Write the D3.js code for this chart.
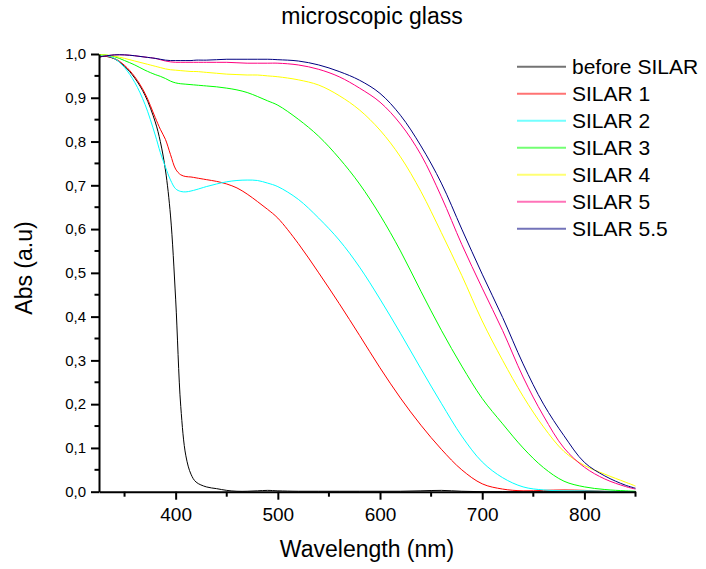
<!DOCTYPE html>
<html>
<head>
<meta charset="utf-8">
<script src="https://cdn.jsdelivr.net/npm/d3@7"></script>
<style>
	body{margin:0;background:#fff;}
	text{font-family:"Liberation Sans", Arial, sans-serif;fill:#000;}
	.axis path, .axis line{stroke:#000;stroke-width:2px;}
</style>
</head>
<body>
<script>
(function(){
	//wavelength (nm) sample points shared by all spectra
	var wavelength =[325,330,340,350,360,370,380,385,390,395,400,405,410,415,420,430,440,450,460,470,480,490,500,520,540,560,580,600,620,640,660,680,700,720,740,760,780,800,820,840,850];

	var beforeSilar =[0.993,0.995,0.989,0.972,0.945,0.906,0.845,0.80,0.735,0.63,0.44,0.195,0.082,0.040,0.022,0.011,0.007,0.003,0.001,0.001,0.002,0.003,0.002,0.001,0.001,0.001,0.001,0.001,0.001,0.002,0.003,0.001,0,0,0,0,0,0,0,0,0];
	var silar1 =[0.993,0.995,0.990,0.974,0.948,0.910,0.855,0.828,0.805,0.770,0.737,0.724,0.720,0.719,0.717,0.713,0.709,0.703,0.694,0.680,0.663,0.645,0.625,0.567,0.500,0.430,0.357,0.283,0.214,0.152,0.097,0.050,0.018,0.006,0.002,0.003,0.004,0.003,0.001,0,0];
	var silar2 =[0.995,0.997,0.990,0.969,0.935,0.885,0.815,0.775,0.742,0.712,0.692,0.686,0.685,0.687,0.690,0.697,0.703,0.708,0.711,0.712,0.711,0.705,0.697,0.668,0.625,0.575,0.513,0.440,0.362,0.281,0.202,0.127,0.068,0.032,0.011,0.004,0.002,0.002,0.001,0.001,0];
	var silar3 =[0.998,0.998,0.994,0.985,0.975,0.963,0.953,0.949,0.944,0.938,0.934,0.932,0.931,0.930,0.929,0.927,0.925,0.922,0.918,0.912,0.903,0.893,0.883,0.851,0.812,0.762,0.703,0.632,0.550,0.458,0.369,0.287,0.213,0.155,0.100,0.055,0.024,0.011,0.005,0.002,0.001];
	var silar4 =[0.998,0.998,0.995,0.990,0.984,0.978,0.972,0.969,0.966,0.964,0.963,0.962,0.961,0.960,0.960,0.958,0.956,0.954,0.953,0.952,0.952,0.950,0.948,0.941,0.929,0.905,0.872,0.826,0.765,0.686,0.592,0.494,0.390,0.300,0.218,0.148,0.092,0.060,0.040,0.022,0.013];
	var silar5 =[0.993,0.995,0.998,0.998,0.996,0.993,0.990,0.987,0.984,0.982,0.981,0.981,0.981,0.981,0.981,0.981,0.981,0.981,0.980,0.979,0.979,0.979,0.979,0.975,0.965,0.948,0.922,0.890,0.840,0.770,0.674,0.565,0.465,0.368,0.262,0.173,0.100,0.056,0.029,0.012,0.006];
	var silar55 =[0.993,0.995,0.998,0.998,0.996,0.993,0.990,0.988,0.986,0.985,0.985,0.985,0.985,0.985,0.986,0.986,0.987,0.988,0.988,0.988,0.988,0.988,0.987,0.984,0.975,0.960,0.940,0.910,0.860,0.790,0.705,0.600,0.497,0.398,0.292,0.200,0.128,0.067,0.036,0.015,0.008];

	var seriesNames =["before SILAR", "SILAR 1", "SILAR 2", "SILAR 3", "SILAR 4", "SILAR 5", "SILAR 5.5"];
	var seriesColors =["#000000", "#ff0000", "#00ffff", "#00ff00", "#ffff00", "#ff0080", "#000080"];
	var seriesValues =[beforeSilar, silar1, silar2, silar3, silar4, silar5, silar55];

	var xMajor =[400, 500, 600, 700, 800],
		xMinor =[350, 450, 550, 650, 750, 850],
		yMajor =[0, 0.1, 0.2, 0.3, 0.4, 0.5, 0.6, 0.7, 0.8, 0.9, 1.0],
		yMinor =[0.05, 0.15, 0.25, 0.35, 0.45, 0.55, 0.65, 0.75, 0.85, 0.95];

	//frame dimensions
	var width =706,
		height =569,
		left =99,
		right =635.5,
		top =54,
		bottom =491.7;

	var x =d3.scaleLinear()
		.domain([325, 850])
		.range([left, right]);

	var y =d3.scaleLinear()
		.domain([0, 1])
		.range([bottom, top]);

	var svg =d3.select("body")
		.append("svg")
		.attr("width", width)
		.attr("height", height);

	//spectra
	var line =d3.line()
		.x(function(d){ return x(d[0]); })
		.y(function(d){ return y(Math.max(0, d[1])); })
		.curve(d3.curveCatmullRom.alpha(0.5));

	seriesValues.forEach(function(vals, i){
		var pts =wavelength.map(function(w, j){ return [w, vals[j]]; });
		svg.append("path")
			.datum(pts)
			.attr("class", "spectrum")
			.attr("fill", "none")
			.attr("stroke", seriesColors[i])
			.attr("stroke-width", 1)
			.attr("d", line);
	});

	//axes
	var xAxis =svg.append("g")
		.attr("class", "axis")
		.attr("transform", "translate(0," + bottom + ")")
		.call(d3.axisBottom(x).tickValues(xMajor).tickSize(8).tickSizeOuter(0).tickPadding(8).tickFormat(d3.format("d")));
	xAxis.selectAll("text").style("font-size", "19px");

	xAxis.selectAll(".minor")
		.data(xMinor)
		.enter()
		.append("line")
		.attr("class", "minor")
		.attr("x1", function(d){ return x(d); })
		.attr("x2", function(d){ return x(d); })
		.attr("y1", 0)
		.attr("y2", 5);

	var yAxis =svg.append("g")
		.attr("class", "axis")
		.attr("transform", "translate(" + left + ",0)")
		.call(d3.axisLeft(y).tickValues(yMajor).tickSize(8).tickSizeOuter(0).tickPadding(5)
			.tickFormat(function(d){ return d3.format(".1f")(d).replace(".", ","); }));
	yAxis.selectAll("text").style("font-size", "15px");

	yAxis.selectAll(".minor")
		.data(yMinor)
		.enter()
		.append("line")
		.attr("class", "minor")
		.attr("y1", function(d){ return y(d); })
		.attr("y2", function(d){ return y(d); })
		.attr("x1", 0)
		.attr("x2", -4.5);

	//titles
	svg.append("text")
		.attr("x", 372)
		.attr("y", 24)
		.attr("text-anchor", "middle")
		.style("font-size", "23px")
		.text("microscopic glass");

	svg.append("text")
		.attr("x", 367)
		.attr("y", 557)
		.attr("text-anchor", "middle")
		.style("font-size", "23px")
		.text("Wavelength (nm)");

	svg.append("text")
		.attr("transform", "translate(32,268) rotate(-90)")
		.attr("text-anchor", "middle")
		.style("font-size", "23px")
		.text("Abs (a.u)");

	//legend
	var legend =svg.selectAll(".legendItem")
		.data(seriesNames)
		.enter()
		.append("g")
		.attr("class", "legendItem")
		.attr("transform", function(d, i){ return "translate(0," + (66.7 + i * 27) + ")"; });

	legend.append("line")
		.attr("x1", 517)
		.attr("x2", 566)
		.attr("stroke", function(d, i){ return seriesColors[i]; })
		.attr("stroke-width", 2)
		.attr("stroke-opacity", 0.55);

	legend.append("text")
		.attr("x", 572)
		.attr("y", 7.5)
		.style("font-size", "21px")
		.text(function(d){ return d; });
})();
</script>
</body>
</html>
